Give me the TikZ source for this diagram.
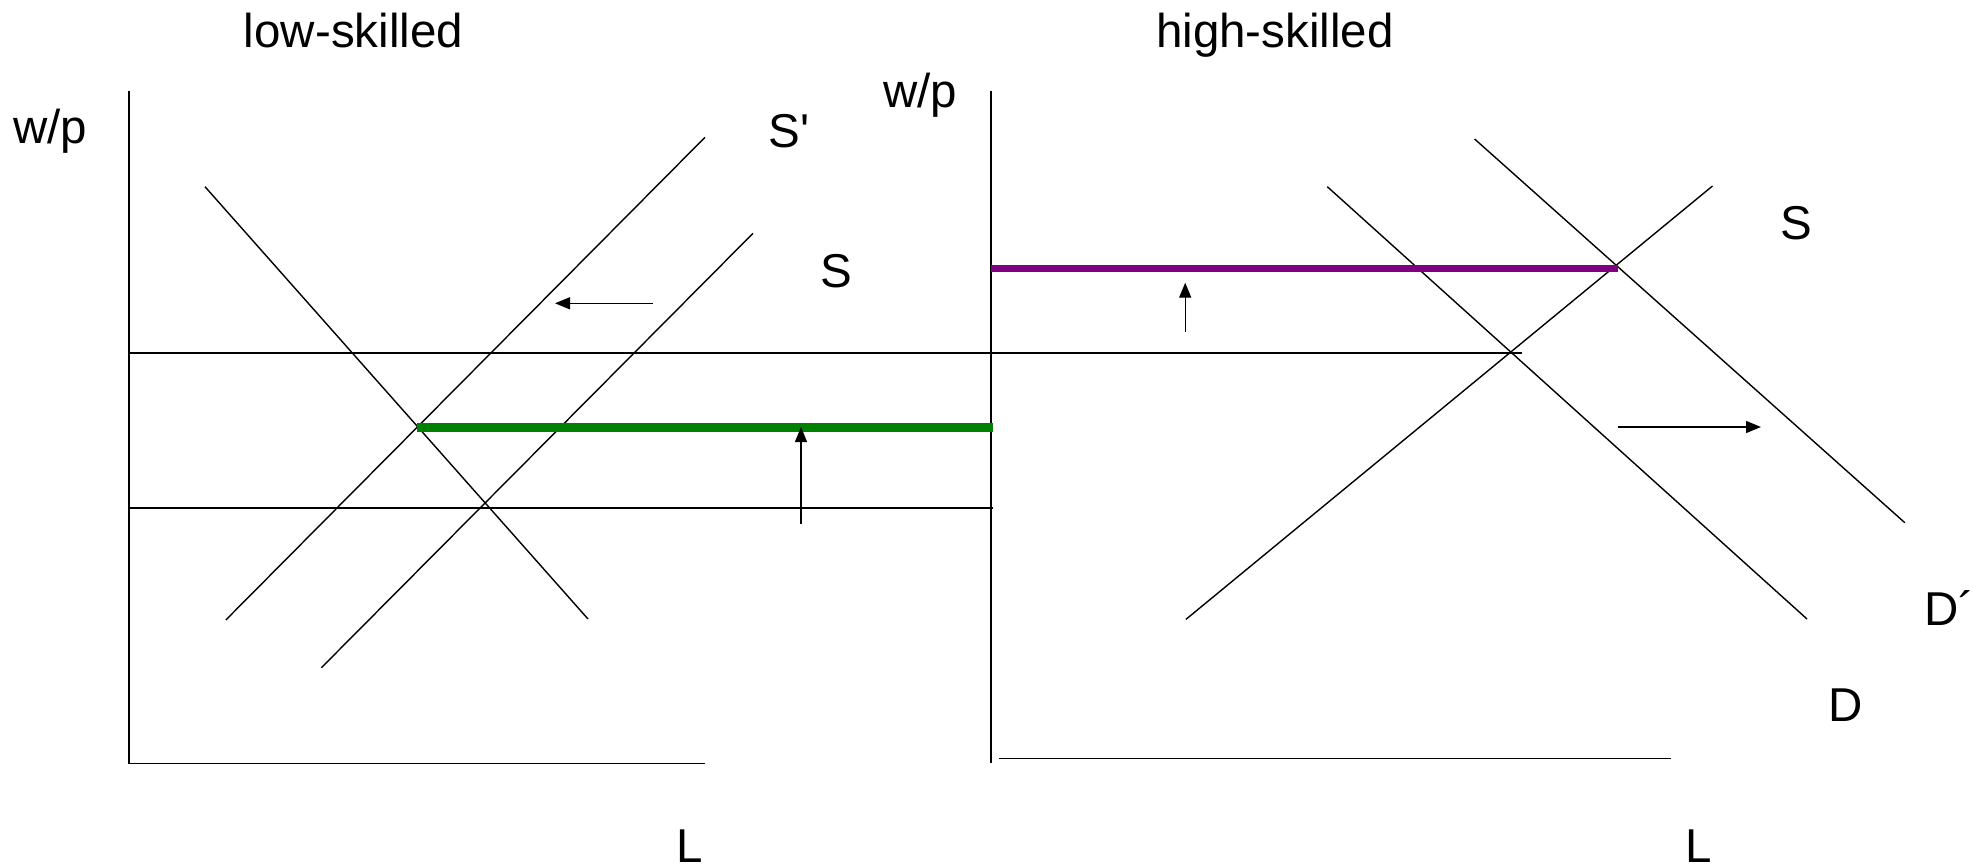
\documentclass[tikz,border=0pt]{standalone}
\usepackage{fontspec}
\setmainfont{Liberation Sans}
\usetikzlibrary{arrows.meta}
\definecolor{lgreen}{HTML}{008000}
\definecolor{lpurple}{HTML}{800080}
\begin{document}
\begin{tikzpicture}[x=1pt,y=-1pt,
  curve/.style={line width=1.4pt},
  axisline/.style={line width=1.4pt},
  hline/.style={line width=1.9pt},
  shiftarrow/.style={line width=1.4pt,-{Triangle[length=15pt,width=12pt]}},
  lbl/.style={inner sep=0pt,anchor=base,font=\fontsize{47.5}{52}\selectfont}]
\useasboundingbox (0,0) rectangle (1973,867);

% titles and axis labels
\node[lbl] (tlow) at (353.5,48) {low-skilled};
\node[lbl] (thigh) at (1275,48) {high-skilled};
\node[lbl] (wpl) at (50,143) {w/p};
\node[lbl] (wpr) at (920,107) {w/p};
\node[lbl] (Ll) at (690,862) {L};
\node[lbl] (Lr) at (1698.5,862) {L};
\node[lbl] (lSp) at (789,147) {S\textquotesingle};
\node[lbl] (lS) at (836,287) {S};
\node[lbl] (rS) at (1796,239) {S};
\node[lbl] (rD) at (1845.5,721) {D};
\node[lbl,anchor=base west] (rDp) at (1924,625) {D´};

% left panel axes
\coordinate (lyT) at (128.8,91);
\coordinate (lO) at (128.8,763.3);
\coordinate (lxR) at (704.7,763.3);
\draw[axisline] (lyT) -- (lO) -- (lxR);

% right panel axes
\coordinate (ryT) at (991,91);
\coordinate (ryB) at (991,762.7);
\coordinate (rxL) at (999,758.3);
\coordinate (rxR) at (1670.7,758.3);
\draw[axisline] (ryT) -- (ryB);
\draw[axisline] (rxL) -- (rxR);

% horizontal wage lines
\coordinate (h1L) at (128.8,353.3);
\coordinate (h1R) at (1521.8,353.3);
\coordinate (h2L) at (128.8,508.3);
\coordinate (h2R) at (993,508.3);
\draw[hline] (h1L) -- (h1R);
\draw[hline] (h2L) -- (h2R);

% left panel curves
\coordinate (lDT) at (205,186.7);
\coordinate (lDB) at (588,619);
\coordinate (lSpB) at (225.8,620);
\coordinate (lSpT) at (705,137.3);
\coordinate (lSB) at (321.4,667.7);
\coordinate (lST) at (753,233.3);
\draw[curve] (lDT) -- (lDB);
\draw[curve] (lSpB) -- (lSpT);
\draw[curve] (lSB) -- (lST);

% right panel curves
\coordinate (rSB) at (1186,619.3);
\coordinate (rST) at (1712.5,186);
\coordinate (rDT) at (1327.3,186.7);
\coordinate (rDB) at (1807,619);
\coordinate (rDpT) at (1474.6,139);
\coordinate (rDpB) at (1904.8,522.7);
\draw[curve] (rSB) -- (rST);
\draw[curve] (rDT) -- (rDB);
\draw[curve] (rDpT) -- (rDpB);

% coloured wage levels
\coordinate (gL) at (417,427);
\coordinate (gR) at (993,427);
\draw[lgreen,line width=9pt] (gL) -- (gR);
\coordinate (pL) at (991,268.3);
\coordinate (pR) at (1617.5,268.3);
\draw[lpurple,line width=7pt] (pL) -- (pR);

% shift arrows
\coordinate (a1s) at (653,303.3);
\coordinate (a1e) at (555,303.3);
\draw[shiftarrow] (a1s) -- (a1e);
\coordinate (a2s) at (801,524);
\coordinate (a2e) at (801,427);
\draw[shiftarrow] (a2s) -- (a2e);
\coordinate (a3s) at (1185.2,331.7);
\coordinate (a3e) at (1185.2,282.7);
\draw[shiftarrow] (a3s) -- (a3e);
\coordinate (a4s) at (1617.5,427);
\coordinate (a4e) at (1761,427);
\draw[shiftarrow] (a4s) -- (a4e);
\end{tikzpicture}
\end{document}
